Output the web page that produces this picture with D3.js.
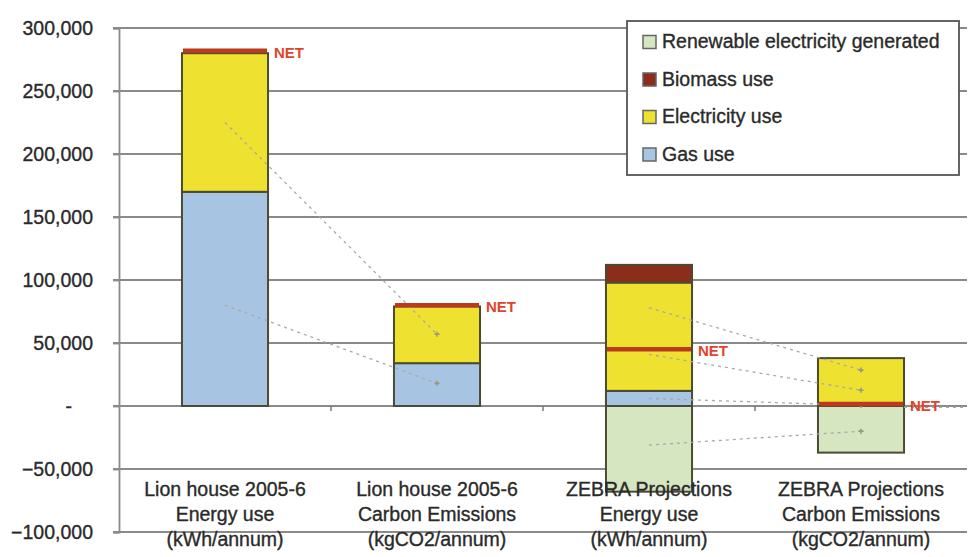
<!DOCTYPE html>
<html>
<head>
<meta charset="utf-8">
<script src="https://cdn.jsdelivr.net/npm/d3@7"></script>
<style>
  body { margin: 0; background: #fff; }
  svg { display: block; font-family: "Liberation Sans", Arial, sans-serif; }
</style>
</head>
<body>
<script>
"use strict";

// categories, three label lines each
var categories = [
    ["Lion house 2005-6", "Energy use", "(kWh/annum)"],
    ["Lion house 2005-6", "Carbon Emissions", "(kgCO2/annum)"],
    ["ZEBRA Projections", "Energy use", "(kWh/annum)"],
    ["ZEBRA Projections", "Carbon Emissions", "(kgCO2/annum)"]
];
var gasUse = [170000, 34000, 12000, 0];
var electricityUse = [110000, 45000, 86000, 38000];
var biomassUse = [0, 0, 14000, 0];
var renewableGenerated = [0, 0, -68000, -37000];
var netValues = [282000, 80000, 45000, 1500];
var yTicks = [-100000, -50000, 0, 50000, 100000, 150000, 200000, 250000, 300000];
var legendNames = ["Renewable electricity generated", "Biomass use", "Electricity use", "Gas use"];
// faint dashed connector lines: [from category, to category, value from, value to]
var connectors = [
    [0, 1, 225000, 57000],
    [0, 1, 80000, 18000],
    [2, 3, 78000, 28500],
    [2, 3, 41000, 12500],
    [2, 3, 6000, 500],
    [2, 3, -31000, -20000]
];

var colours = {
    "Renewable electricity generated": "#d5e6c1",
    "Biomass use": "#8c2d1b",
    "Electricity use": "#efe12f",
    "Gas use": "#a7c4e2"
};

var width = 973, height = 557;
var fontSize = 19.5;
var svg = d3.select("body").append("svg").attr("width", width).attr("height", height);

var x = d3.scaleBand().domain(d3.range(categories.length)).range([119, 967])
    .paddingInner(0.594).paddingOuter(0.297);
var y = d3.scaleLinear().domain([-100000, 300000]).range([532, 28]);

// gridlines
svg.append("g").selectAll("line").data(yTicks).join("line")
    .attr("x1", 113).attr("x2", x.range()[1])
    .attr("y1", function(d){ return y(d); }).attr("y2", function(d){ return y(d); })
    .attr("stroke", "#8a8a8a").attr("stroke-width", 1.8);

// y axis
var yAxis = svg.append("g").attr("transform", "translate(119,0)")
    .call(d3.axisLeft(y).tickValues(yTicks).tickSize(6).tickPadding(20)
        .tickFormat(function(d){ return d === 0 ? "-" : d3.format(",")(d); }));
yAxis.select(".domain").attr("stroke", "#8a8a8a").attr("stroke-width", 1.8);
yAxis.selectAll(".tick line").attr("stroke", "#8a8a8a").attr("stroke-width", 1.8);
yAxis.selectAll(".tick text").attr("font-size", fontSize).attr("fill", "#2a2a2a")
    .attr("stroke", "#2a2a2a").attr("stroke-width", 0.35)
    .attr("font-family", "'Liberation Sans', Arial, sans-serif");
yAxis.selectAll(".tick text").filter(function(d){ return d === 0; }).attr("x", -47);

// category ticks on zero line
svg.append("g").selectAll("line").data(d3.range(1, categories.length)).join("line")
    .attr("x1", function(i){ return x(i) - x.step() * x.paddingInner() / 2; })
    .attr("x2", function(i){ return x(i) - x.step() * x.paddingInner() / 2; })
    .attr("y1", y(0)).attr("y2", y(0) + 5)
    .attr("stroke", "#777").attr("stroke-width", 1.5);

// stacked segments
var segments = [];
categories.forEach(function(c, i){
    var base = 0;
    [["Gas use", gasUse[i]], ["Electricity use", electricityUse[i]], ["Biomass use", biomassUse[i]]].forEach(function(s){
        if (s[1] > 0) { segments.push({i: i, name: s[0], y0: base, y1: base + s[1]}); base += s[1]; }
    });
    if (renewableGenerated[i] < 0) segments.push({i: i, name: "Renewable electricity generated", y0: renewableGenerated[i], y1: 0});
});

svg.append("g").selectAll("rect").data(segments).join("rect")
    .attr("x", function(d){ return x(d.i); })
    .attr("width", x.bandwidth())
    .attr("y", function(d){ return y(d.y1); })
    .attr("height", function(d){ return y(d.y0) - y(d.y1); })
    .attr("fill", function(d){ return colours[d.name]; })
    .attr("stroke", "#4b4a33").attr("stroke-width", 2);

// connectors
var conn = svg.append("g").attr("fill", "none");
connectors.forEach(function(c){
    conn.append("line")
        .attr("x1", x(c[0]) + x.bandwidth() / 2).attr("y1", y(c[2]))
        .attr("x2", x(c[1]) + x.bandwidth() / 2).attr("y2", y(c[3]))
        .attr("stroke", "#a9a9a9").attr("stroke-width", 1.3).attr("stroke-dasharray", "3,4");
    conn.append("path")
        .attr("d", d3.symbol(d3.symbolCross, 14)())
        .attr("transform", "translate(" + (x(c[1]) + x.bandwidth() / 2) + "," + y(c[3]) + ")")
        .attr("fill", "#9a9a7a");
});
conn.append("line")
    .attr("x1", x(3) + x.bandwidth()).attr("y1", y(-1000))
    .attr("x2", x.range()[1]).attr("y2", y(-1000))
    .attr("stroke", "#a9a9a9").attr("stroke-width", 1.3).attr("stroke-dasharray", "3,4");

// net lines and labels
svg.append("g").selectAll("line").data(netValues).join("line")
    .attr("x1", function(d, i){ return x(i) + 1; })
    .attr("x2", function(d, i){ return x(i) + x.bandwidth() - 1; })
    .attr("y1", function(d){ return y(d); }).attr("y2", function(d){ return y(d); })
    .attr("stroke", "#bb3a1c").attr("stroke-width", 4.5);

svg.append("g").selectAll("text").data(netValues).join("text")
    .attr("x", function(d, i){ return x(i) + x.bandwidth() + 6; })
    .attr("y", function(d){ return y(d) + 3; })
    .attr("dominant-baseline", "middle")
    .attr("font-size", 15).attr("font-weight", "bold").attr("fill", "#e0442c")
    .text("NET");

// category labels
var labels = svg.append("g").attr("font-size", fontSize).attr("fill", "#2a2a2a")
    .attr("stroke", "#2a2a2a").attr("stroke-width", 0.35).attr("text-anchor", "middle");
categories.forEach(function(c, i){
    labels.append("text")
        .attr("x", x(i) + x.bandwidth() / 2)
        .attr("y", 496)
        .selectAll("tspan").data(c).join("tspan")
        .attr("x", x(i) + x.bandwidth() / 2)
        .attr("dy", function(d, k){ return k === 0 ? 0 : 25; })
        .text(function(d){ return d; });
});

// legend
var legend = svg.append("g").attr("transform", "translate(627,21)");
legend.append("rect").attr("width", 332).attr("height", 154)
    .attr("fill", "#fff").attr("stroke", "#555").attr("stroke-width", 1.8);
var items = legend.selectAll("g").data(legendNames).join("g")
    .attr("transform", function(d, i){ return "translate(16," + (21 + i * 37.5) + ")"; });
items.append("rect").attr("x", 0).attr("y", -6.5).attr("width", 13).attr("height", 13)
    .attr("fill", function(d){ return colours[d]; }).attr("stroke", "#666").attr("stroke-width", 1.5);
items.append("text").attr("x", 19).attr("y", 1).attr("dominant-baseline", "middle")
    .attr("font-size", fontSize).attr("fill", "#2a2a2a")
    .attr("stroke", "#2a2a2a").attr("stroke-width", 0.35)
    .text(function(d){ return d; });
</script>
</body>
</html>
